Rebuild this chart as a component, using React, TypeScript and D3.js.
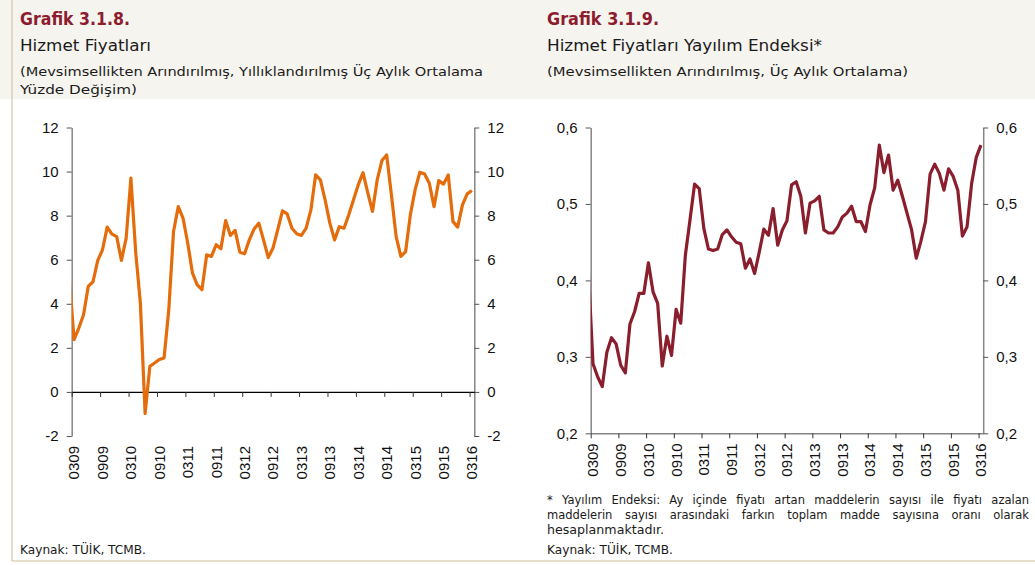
import React, { useRef, useEffect } from 'react';
import * as d3 from 'd3';

const W = 1035;
const H = 565;

// x ekseni etiketleri (her 6 ayda bir), seri 0209'dan başlar (ilk değer eksenin solunda kalıyor)
const tickLabels = ['0309', '0909', '0310', '0910', '0311', '0911', '0312', '0912', '0313', '0913', '0314', '0914', '0315', '0915', '0316'];
const monthCount = 85; // 0309 .. 0316

// Grafik 3.1.8 - hizmet fiyatları, yıllıklandırılmış % değişim (0209..0316)
const hizmetFiyatlari = [
  5.2, 2.37, 2.9, 3.5, 4.79, 5.0, 5.97, 6.45, 7.48, 7.16, 7.05, 5.97, 6.98, 9.7, 6.37, 4.03,
  -0.98, 1.16, 1.31, 1.47, 1.54, 3.73, 7.28, 8.41, 7.89, 6.75, 5.39, 4.86, 4.64, 6.22, 6.15,
  6.68, 6.5, 7.78, 7.1, 7.33, 6.34, 6.27, 6.9, 7.39, 7.66, 6.9, 6.1, 6.53, 7.36, 8.22, 8.08,
  7.43, 7.18, 7.1, 7.43, 8.26, 9.85, 9.62, 8.72, 7.66, 6.9, 7.5, 7.43, 8.04, 8.72, 9.4, 9.95,
  9.05, 8.19, 9.62, 10.5, 10.75, 8.94, 7.05, 6.15, 6.37, 8.04, 9.17, 9.97, 9.89, 9.47, 8.41,
  9.59, 9.43, 9.85, 7.73, 7.48, 8.49, 8.99, 9.14,
];

// Grafik 3.1.9 - yayılım endeksi (0209..0316)
const yayilimEndeksi = [
  0.413, 0.291, 0.274, 0.261, 0.306, 0.325, 0.317, 0.289, 0.279, 0.343, 0.359, 0.383, 0.383,
  0.423, 0.385, 0.37, 0.288, 0.327, 0.302, 0.362, 0.344, 0.433, 0.479, 0.526, 0.52, 0.468,
  0.441, 0.439, 0.441, 0.46, 0.466, 0.457, 0.45, 0.448, 0.416, 0.428, 0.409, 0.437, 0.467,
  0.459, 0.494, 0.446, 0.466, 0.478, 0.525, 0.529, 0.51, 0.462, 0.501, 0.504, 0.51, 0.466,
  0.462, 0.462, 0.47, 0.483, 0.488, 0.497, 0.477, 0.477, 0.464, 0.499, 0.521, 0.577, 0.541,
  0.564, 0.518, 0.531, 0.51, 0.488, 0.466, 0.429, 0.451, 0.477, 0.539, 0.552, 0.54, 0.518,
  0.546, 0.536, 0.518, 0.458, 0.47, 0.527, 0.561, 0.577,
];

const leftTicks = [-2, 0, 2, 4, 6, 8, 10, 12];
const rightTicks = [0.2, 0.3, 0.4, 0.5, 0.6];

const orange = '#e46c0a';
const darkRed = '#8b1e2d';
const titleRed = '#8c1c2e';
const axisGrey = '#868686';
const headFont = '"DejaVu Sans", sans-serif';
const tickFont = '"Liberation Sans", Arial, sans-serif';

const trComma = d3.formatLocale({ decimal: ',', thousands: '.', grouping: [3], currency: ['', ' TL'], minus: '-' });
const intFmt = d3.formatLocale({ decimal: ',', thousands: '.', grouping: [3], currency: ['', ' TL'], minus: '-' }).format('d');

const drawPanel = (svg, opts) => {
  const { id, left, right, top, bottom, domain, ticks, fmt, values, color, zeroAxis } = opts;

  const x = d3.scaleLinear().domain([-0.5, monthCount - 0.5]).range([left, right]);
  const y = d3.scaleLinear().domain(domain).range([bottom, top]);

  const g = svg.append('g');

  // eksen dışına taşan ilk parçayı kırp
  svg.append('defs').append('clipPath').attr('id', id)
    .append('rect')
    .attr('x', left).attr('y', top - 10)
    .attr('width', right - left).attr('height', bottom - top + 20);

  // sol ve sağ y eksenleri
  const yl = g.append('g').attr('transform', `translate(${left},0)`)
    .call(d3.axisLeft(y).tickValues(ticks).tickFormat(fmt).tickSizeInner(5).tickSizeOuter(0).tickPadding(8));
  const yr = g.append('g').attr('transform', `translate(${right},0)`)
    .call(d3.axisRight(y).tickValues(ticks).tickFormat(fmt).tickSizeInner(5).tickSizeOuter(0).tickPadding(8));
  [yl, yr].forEach(a => {
    a.select('.domain').attr('stroke', axisGrey).attr('stroke-width', 1.5);
    a.selectAll('.tick line').attr('stroke', '#555');
    a.selectAll('text').attr('fill', '#111').style('font-family', tickFont).style('font-size', '15px');
  });

  // x ekseni: sıfır çizgisi ya da alt kenar
  const xAxisY = zeroAxis ? y(0) : bottom;
  const edges = d3.range(0, monthCount, 6).map(i => i - 0.5);
  const xa = g.append('g').attr('transform', `translate(0,${xAxisY})`)
    .call(d3.axisBottom(x).tickValues(edges).tickFormat(() => '').tickSizeInner(5).tickSizeOuter(0));
  xa.select('.domain').attr('stroke', zeroAxis ? '#000' : axisGrey).attr('stroke-width', zeroAxis ? 1.2 : 1.5);
  xa.selectAll('.tick line').attr('stroke', '#333');

  // x etiketleri (kategorinin ortasında, dikey)
  g.append('g').selectAll('text')
    .data(tickLabels)
    .join('text')
    .attr('transform', (d, k) => `translate(${x(k * 6)},${bottom + 10}) rotate(-90)`)
    .attr('text-anchor', 'end')
    .attr('dy', '0.36em')
    .style('font-family', tickFont)
    .style('font-size', '15px')
    .attr('fill', '#111')
    .text(d => d);

  const line = d3.line()
    .x((d, i) => x(i - 1))
    .y(d => y(d));

  g.append('path')
    .datum(values)
    .attr('clip-path', `url(#${id})`)
    .attr('fill', 'none')
    .attr('stroke', color)
    .attr('stroke-width', 3.2)
    .attr('stroke-linejoin', 'round')
    .attr('d', line);
};

const App = () => {
  const svgRef = useRef(null);

  useEffect(() => {
    document.body.style.margin = '0';
    document.body.style.overflow = 'hidden';

    const svg = d3.select(svgRef.current);
    svg.selectAll('*').remove();

    // arka plan
    svg.append('rect').attr('width', W).attr('height', H).attr('fill', '#fff');
    svg.append('rect').attr('width', W).attr('height', 99).attr('fill', '#f6f4ef');
    svg.append('line').attr('x1', 12).attr('x2', 12).attr('y1', 0).attr('y2', 561)
      .attr('stroke', '#cdbb95').attr('stroke-width', 1);
    svg.append('line').attr('x1', 12).attr('x2', W).attr('y1', 561).attr('y2', 561)
      .attr('stroke', '#cdbb95').attr('stroke-width', 1);

    const txt = (x, y, s, size, opts = {}) => {
      const t = svg.append('text')
        .attr('x', x).attr('y', y)
        .style('font-family', headFont)
        .style('font-size', `${size}px`)
        .attr('fill', opts.fill || '#1a1a1a')
        .style('font-weight', opts.bold ? 'bold' : 'normal')
        .text(s);
      if (opts.len) t.attr('textLength', opts.len).attr('lengthAdjust', 'spacingAndGlyphs');
      return t;
    };

    // iki yana yaslı satır: kelimeler arasındaki boşluğu dağıt
    const justify = (x, y, s, width, size) => {
      const words = s.split(' ');
      const nodes = words.map(w => txt(0, y, w, size));
      const widths = nodes.map(n => n.node().getComputedTextLength());
      const gap = (width - d3.sum(widths)) / (words.length - 1);
      let cx = x;
      nodes.forEach((n, i) => {
        n.attr('x', cx);
        cx += widths[i] + gap;
      });
    };

    // başlıklar
    txt(20, 25, 'Grafik 3.1.8.', 17.5, { bold: true, fill: titleRed, len: 110 });
    txt(20, 51, 'Hizmet Fiyatları', 15, { len: 131 });
    txt(20, 76, '(Mevsimsellikten Arındırılmış, Yıllıklandırılmış Üç Aylık Ortalama', 13, { len: 463 });
    txt(20, 94, 'Yüzde Değişim)', 13, { len: 117 });

    txt(547, 25, 'Grafik 3.1.9.', 17.5, { bold: true, fill: titleRed, len: 112 });
    txt(547, 51, 'Hizmet Fiyatları Yayılım Endeksi*', 15, { len: 275 });
    txt(547, 76, '(Mevsimsellikten Arındırılmış, Üç Aylık Ortalama)', 13, { len: 361 });

    // dipnotlar
    justify(547, 504, '* Yayılım Endeksi: Ay içinde fiyatı artan maddelerin sayısı ile fiyatı azalan', 482, 11.5);
    justify(547, 519, 'maddelerin sayısı arasındaki farkın toplam madde sayısına oranı olarak', 482, 11.5);
    txt(547, 534, 'hesaplanmaktadır.', 11.5, { len: 117 });
    txt(547, 554, 'Kaynak: TÜİK, TCMB.', 11.5, { len: 126 });
    txt(20, 554, 'Kaynak: TÜİK, TCMB.', 11.5, { len: 126 });

    drawPanel(svg, {
      id: 'clipLeft',
      left: 71.7, right: 474.3, top: 127.5, bottom: 436,
      domain: [-2, 12], ticks: leftTicks, fmt: intFmt,
      values: hizmetFiyatlari, color: orange, zeroAxis: true,
    });

    drawPanel(svg, {
      id: 'clipRight',
      left: 590.7, right: 983.2, top: 127.5, bottom: 433.3,
      domain: [0.2, 0.6], ticks: rightTicks, fmt: trComma.format('.1f'),
      values: yayilimEndeksi, color: darkRed, zeroAxis: false,
    });
  }, []);

  return (
    <svg ref={svgRef} width={W} height={H} style={{ display: 'block' }} />
  );
};

export default App;
